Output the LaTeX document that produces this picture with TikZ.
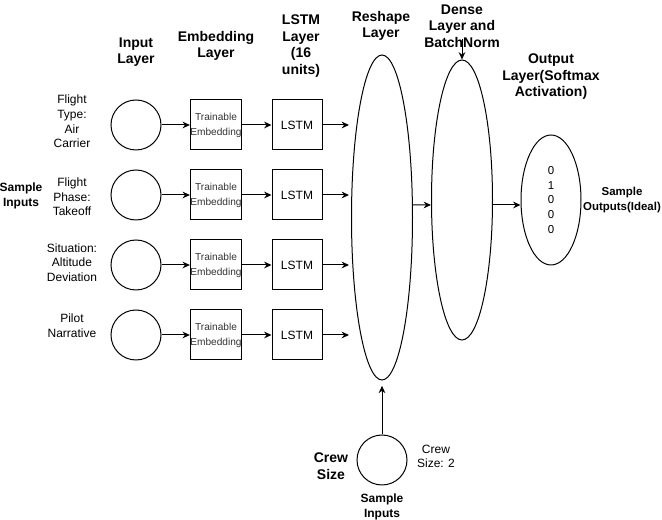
\documentclass[tikz,border=0pt]{standalone}
\usepackage{fontspec}
\setmainfont{Liberation Sans}
\usetikzlibrary{shapes.geometric,arrows.meta}

\begin{document}
\begin{tikzpicture}[x=0.75pt,y=-0.75pt]

  \useasboundingbox (0,0) rectangle (662,520);

  % node styles
  \tikzstyle{Title}=[
  align=center,
  inner sep=0pt,
  font=\fontsize{10.5}{12.4}\selectfont\bfseries]

  \tikzstyle{Label}=[align=center,inner sep=0pt,font=\fontsize{9}{10.9}\selectfont]
  \tikzstyle{SmallBold}=[align=center,inner sep=0pt,font=\fontsize{8.6}{10.8}\selectfont\bfseries]

  \tikzstyle{Unit}=[shape=circle,draw,line width=0.75pt,minimum size=37.5pt,inner sep=0pt]
  \tikzstyle{Embed}=[shape=rectangle,draw,line width=0.75pt,minimum size=37.5pt,inner sep=0pt,
  align=center,text=black!80,font=\fontsize{7.6}{11.25}\selectfont]
  \tikzstyle{Cell}=[shape=rectangle,draw,line width=0.75pt,minimum size=37.5pt,inner sep=0pt,
  font=\fontsize{9}{10.9}\selectfont]
  \tikzstyle{Layer}=[shape=ellipse,draw,line width=0.75pt,inner sep=0pt,minimum width=45.75pt]

  \tikzstyle{Link}=[line width=0.75pt,-{Stealth[length=5.5pt,width=5pt]}]

  % column titles
  \node[Title] (tIn)  at (136, 52) {Input\\Layer};
  \node[Title] (tEmb) at (216, 46) {Embedding\\Layer};
  \node[Title] (tLst) at (301, 46) {LSTM\\Layer\\(16\\units)};
  \node[Title] (tRes) at (381, 26) {Reshape\\Layer};
  \node[Title] (tDen) at (462, 26) {Dense\\Layer and\\BatchNorm};
  \node[Title] (tOut) at (551, 77) {Output\\Layer(Softmax\\Activation)};

  % row labels
  \node[Label] (l1) at (72, 121.5) {Flight\\Type:\\Air\\Carrier};
  \node[Label] (l2) at (72, 197)   {Flight\\Phase:\\Takeoff};
  \node[Label] (l3) at (72, 262.5) {Situation:\\Altitude\\Deviation};
  \node[Label] (l4) at (72, 325.5) {Pilot\\Narrative};
  \node[SmallBold,font=\fontsize{9}{11.2}\selectfont\bfseries] (sIn) at (21, 195.5) {Sample\\Inputs};

  % input units
  \node[Unit] (in1) at (136, 125) {};
  \node[Unit] (in2) at (136, 195) {};
  \node[Unit] (in3) at (136, 265) {};
  \node[Unit] (in4) at (136, 335) {};

  % embedding boxes
  \node[Embed] (emb1) at (216, 125) {Trainable\\Embedding};
  \node[Embed] (emb2) at (216, 195) {Trainable\\Embedding};
  \node[Embed] (emb3) at (216, 265) {Trainable\\Embedding};
  \node[Embed] (emb4) at (216, 335) {Trainable\\Embedding};

  % lstm boxes
  \node[Cell] (lst1) at (297, 125) {LSTM};
  \node[Cell] (lst2) at (297, 195) {LSTM};
  \node[Cell] (lst3) at (297, 265) {LSTM};
  \node[Cell] (lst4) at (297, 335) {LSTM};

  % layers
  \node[Layer,minimum height=243.75pt] (res) at (382, 217.5) {};
  \node[Layer,minimum height=210pt]    (den) at (462, 200) {};
  \node[Layer,minimum width=45pt,minimum height=97.5pt,align=center,
        font=\fontsize{8.6}{10.9}\selectfont] (out) at (551, 200) {0\\1\\0\\0\\0};
  \node[SmallBold] (sOut) at (622, 200) {Sample\\Outputs(Ideal)};

  % crew size input
  \node[Unit] (crew) at (382, 460) {};
  \node[Title] (tCrew) at (331, 466) {Crew\\Size};
  \node[Label] (lCrew) at (436, 456.5) {Crew\\Size: 2};
  \node[SmallBold,font=\fontsize{9}{11.2}\selectfont\bfseries] (sCrew) at (382, 506.5) {Sample\\Inputs};

  % connections
  \draw[Link] (in1) -- (emb1);
  \draw[Link] (in2) -- (emb2);
  \draw[Link] (in3) -- (emb3);
  \draw[Link] (in4) -- (emb4);

  \draw[Link] (emb1) -- (lst1);
  \draw[Link] (emb2) -- (lst2);
  \draw[Link] (emb3) -- (lst3);
  \draw[Link] (emb4) -- (lst4);

  \draw[Link] (lst1.east) -- ([xshift=-1.5pt]lst1 -| res.west);
  \draw[Link] (lst2.east) -- ([xshift=-1.5pt]lst2 -| res.west);
  \draw[Link] (lst3.east) -- ([xshift=-1.5pt]lst3 -| res.west);
  \draw[Link] (lst4.east) -- ([xshift=-1.5pt]lst4 -| res.west);

  \draw[Link] ([yshift=9.4pt]res.east) -- ([yshift=-3.75pt]den.west);
  \draw[Link] ([yshift=-3.75pt]den.east) -- ([yshift=-3.75pt]out.west);
  \draw[Link] ([yshift=15pt]den.north) -- (den.north);
  \draw[Link] (crew.north) -- ([yshift=-4pt]res.south);

\end{tikzpicture}
\end{document}
